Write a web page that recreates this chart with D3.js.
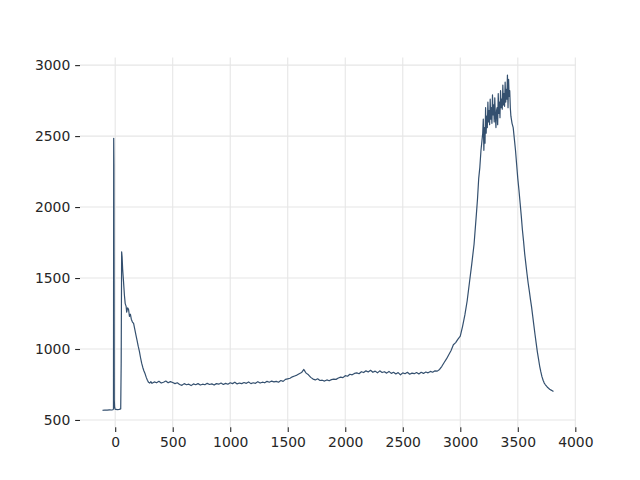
<!DOCTYPE html>
<html>
<head>
<meta charset="utf-8">
<script src="https://cdn.jsdelivr.net/npm/d3@7"></script>
<style>
  html, body { margin: 0; padding: 0; background: #ffffff; }
  svg { display: block; }
  .tick text { font-family: "DejaVu Sans", sans-serif; font-size: 13.9px; fill: #262626; }
</style>
</head>
<body>
<svg id="chart" width="640" height="480"></svg>
<script>
// ---- data ----
const xTicks = [0, 500, 1000, 1500, 2000, 2500, 3000, 3500, 4000];
const yTicks = [500, 1000, 1500, 2000, 2500, 3000];

const xValues = [
  -110, -90, -70, -50, -30, -20, -15, -13, -11, -8, -5, -2,
  5, 20, 35, 48, 52, 56, 60, 65, 72, 80, 87, 95, 100, 108, 116, 124, 132, 140,
  150, 160, 170, 180, 190, 200, 210, 220, 230, 240, 250, 260, 270, 280, 290, 300, 310,
  320, 340, 360, 380, 400, 420, 440, 460, 480, 500, 520, 540, 560, 580, 600, 620, 640, 660, 680,
  700, 720, 740, 760, 780, 800, 820, 840, 860, 880, 900, 920, 940, 960, 980, 1000, 1020, 1040,
  1060, 1080, 1100, 1120, 1140, 1160, 1180, 1200, 1220, 1240, 1260, 1280, 1300, 1320, 1340,
  1360, 1380, 1400, 1420, 1440, 1460, 1480, 1500, 1520, 1540, 1560, 1580, 1600, 1620, 1640,
  1650, 1660, 1680, 1700, 1720, 1740, 1760, 1780, 1800, 1820, 1840, 1860, 1880, 1900, 1920,
  1940, 1960, 1980, 2000, 2020, 2040, 2060, 2080, 2100, 2120, 2140, 2160, 2180, 2200, 2220,
  2240, 2260, 2280, 2300, 2320, 2340, 2360, 2380, 2400, 2420, 2440, 2460, 2480, 2500, 2520,
  2540, 2560, 2580, 2600, 2620, 2640, 2660, 2680, 2700, 2720, 2740, 2760, 2780, 2800, 2820,
  2840, 2860, 2880, 2900, 2920, 2940, 2960, 2980, 3000, 3020, 3040, 3060, 3080, 3100, 3120,
  3140, 3150, 3160, 3170, 3180, 3190,
  3195, 3200, 3205, 3210, 3215, 3220, 3225, 3230, 3235, 3240, 3245, 3250, 3255, 3260, 3265,
  3270, 3275, 3280, 3285, 3290, 3295, 3300, 3305, 3310, 3315, 3320, 3325, 3330, 3335, 3340,
  3345, 3350, 3355, 3360, 3365, 3370, 3375, 3380, 3385, 3390, 3395, 3400, 3405, 3410, 3415,
  3420, 3425, 3430, 3435, 3440,
  3450, 3460, 3470, 3480, 3490, 3500, 3510, 3520, 3530, 3540, 3550, 3560, 3570, 3580,
  3590, 3600, 3610, 3620, 3630, 3640, 3650, 3660, 3670, 3680, 3690, 3700, 3710, 3720, 3730,
  3740, 3750, 3760, 3770, 3780, 3790, 3800, 3810
];

const yValues = [
  568, 570, 569, 571, 570, 572, 578, 2484, 2300, 640, 590, 578,
  574, 573, 575, 578, 900, 1685, 1650, 1560, 1480, 1380, 1320, 1300, 1260, 1290, 1280, 1230, 1245, 1210,
  1190, 1180, 1140, 1100, 1060, 1020, 985, 940, 900, 870, 845, 825, 800, 780, 765, 760, 770,
  758, 768, 762, 772, 760, 766, 774, 762, 770, 764, 756, 762, 750, 744, 756, 748, 752, 742, 754,
  748, 756, 746, 752, 748, 758, 750, 754, 746, 756, 752, 760, 750, 758, 752, 762, 756, 766,
  754, 760, 756, 764, 758, 768, 756, 762, 758, 770, 760, 766, 762, 772, 766,
  774, 768, 772, 766, 778, 772, 786, 790, 794, 804, 810, 816, 826, 834, 856,
  842, 830, 818, 800, 788, 782, 790, 778, 780, 774, 782, 776, 784, 788, 786,
  796, 802, 798, 812, 808, 822, 818, 828, 832, 826, 840, 834, 846, 838, 850,
  836, 844, 832, 846, 834, 840, 830, 842, 828, 836, 824, 834, 818, 832, 826,
  836, 822, 830, 826, 834, 824, 836, 828, 838, 832, 842, 836, 846, 844, 856,
  878, 905, 930, 960, 990, 1030, 1045, 1070, 1090, 1160, 1240, 1340, 1470, 1600, 1740,
  1950, 2060, 2200, 2280, 2400, 2480,
  2520, 2620, 2400, 2560, 2450, 2700, 2520, 2640, 2560, 2740, 2600, 2680, 2580, 2760, 2620,
  2700, 2590, 2790, 2650, 2720, 2600, 2770, 2640, 2560, 2680, 2700, 2580, 2800, 2660, 2740,
  2630, 2820, 2700, 2760, 2690, 2860, 2720, 2800, 2710, 2880, 2740, 2830, 2760, 2930, 2700,
  2900, 2780, 2820, 2700, 2640,
  2590, 2560, 2480, 2400, 2300, 2200, 2120, 2030, 1940, 1840, 1760, 1670, 1600, 1530,
  1465, 1410, 1350, 1295, 1230, 1165, 1100, 1040, 980, 930, 880, 840, 805, 780, 760,
  748, 738, 728, 722, 714, 710, 706, 700
];

// ---- layout ----
const plotLeft = 80, plotRight = 576, plotTop = 57.6, plotBottom = 427.2;

const svg = d3.select("#chart");

const x = d3.scaleLinear().domain([-306, 4006]).range([plotLeft, plotRight]);
const y = d3.scaleLinear().domain([449, 3053]).range([plotBottom, plotTop]);

// grid
const grid = svg.append("g").attr("class", "grid");
grid.selectAll("line.v").data(xTicks).enter().append("line")
  .attr("class", "v")
  .attr("x1", d => x(d)).attr("x2", d => x(d))
  .attr("y1", plotTop).attr("y2", plotBottom)
  .attr("stroke", "#e6e6e6").attr("stroke-width", 1.1);
grid.selectAll("line.h").data(yTicks).enter().append("line")
  .attr("class", "h")
  .attr("y1", d => y(d)).attr("y2", d => y(d))
  .attr("x1", plotLeft).attr("x2", plotRight)
  .attr("stroke", "#e6e6e6").attr("stroke-width", 1.1);

// axes
const xAxis = d3.axisBottom(x).tickValues(xTicks).tickSize(4.86).tickPadding(4.86).tickFormat(d3.format("d"));
const yAxis = d3.axisLeft(y).tickValues(yTicks).tickSize(4.86).tickPadding(4.86).tickFormat(d3.format("d"));

const gx = svg.append("g").attr("transform", `translate(0,${plotBottom})`).call(xAxis);
const gy = svg.append("g").attr("transform", `translate(${plotLeft},0)`).call(yAxis);
[gx, gy].forEach(g => {
  g.select(".domain").remove();
  g.selectAll(".tick line").attr("stroke", "#262626").attr("stroke-width", 1.1);
});

// line
const pts = xValues.map((d, i) => [d, yValues[i]]);
const line = d3.line().x(d => x(d[0])).y(d => y(d[1]));
svg.append("path")
  .datum(pts)
  .attr("fill", "none")
  .attr("stroke", "#34506f")
  .attr("stroke-width", 1.2)
  .attr("stroke-linejoin", "round")
  .attr("d", line);
</script>
</body>
</html>
